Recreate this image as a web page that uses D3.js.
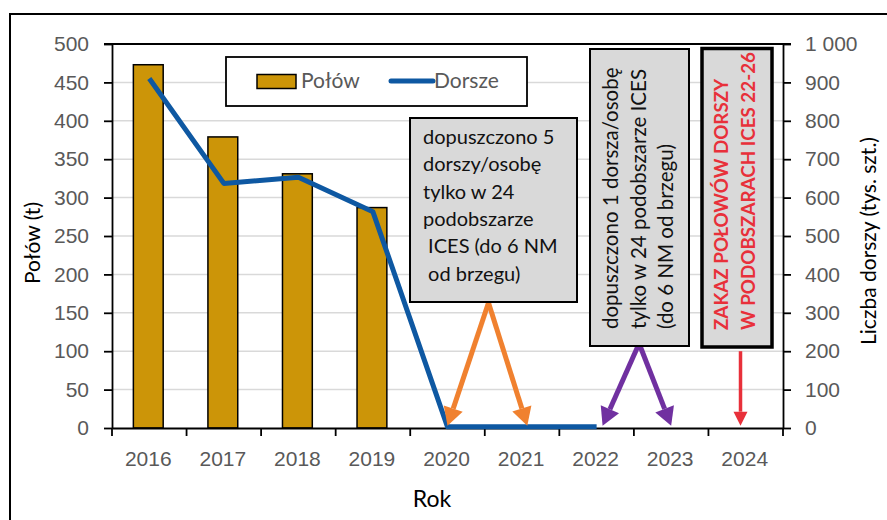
<!DOCTYPE html>
<html>
<head>
<meta charset="utf-8">
<script src="https://cdn.jsdelivr.net/npm/d3@7"></script>
<style>
  html, body { margin: 0; padding: 0; background: #fff; }
  svg { display: block; font-family: "Lato", "Noto Sans", sans-serif; }
</style>
</head>
<body>
<svg id="chart" width="887" height="520"></svg>
<script>
// Catch (t) and cod count (thousands) by year
const years = ["2016", "2017", "2018", "2019", "2020", "2021", "2022", "2023", "2024"];
const catchT = [473, 379, 331, 287, 0, 0, 0, 0, 0];
const codCount = [910, 637, 653, 563, 3, 3, 3, null, null];
const leftTicks = [0, 50, 100, 150, 200, 250, 300, 350, 400, 450, 500];
const rightTicks = [0, 100, 200, 300, 400, 500, 600, 700, 800, 900, 1000];

// Annotation text
const note1Lines = ["dopuszczono 5", "dorszy/osobę", "tylko w 24", "podobszarze", " ICES (do 6 NM", " od brzegu)"];
const note2Lines = ["dopuszczono 1 dorsza/osobę", "tylko w 24 podobszarze ICES", "(do 6 NM od brzegu)"];
const note3Lines = ["ZAKAZ POŁOWÓW DORSZY", "W PODOBSZARACH ICES 22-26"];

const svg = d3.select("#chart");
const m = { left: 112, right: 783, top: 44, bottom: 428 };

// Outer chart frame (runs past the right and bottom edges)
svg.append("rect").attr("x", 10).attr("y", 14).attr("width", 900).attr("height", 540)
  .attr("fill", "#fff").attr("stroke", "#000").attr("stroke-width", 2);

const x = d3.scaleBand().domain(years).range([m.left, m.right]).padding(0);
// continuous position in "year index" units for annotations (0 = left edge)
const xi = d3.scaleLinear().domain([0, years.length]).range([m.left, m.right]);
const yL = d3.scaleLinear().domain([0, 500]).range([m.bottom, m.top]);
const yR = d3.scaleLinear().domain([0, 1000]).range([m.bottom, m.top]);

const grey = "#595959";

// Gridlines
svg.append("g").selectAll("line").data(leftTicks.filter(d => d > 0 && d < 500)).join("line")
  .attr("x1", m.left).attr("x2", m.right)
  .attr("y1", d => yL(d)).attr("y2", d => yL(d))
  .attr("stroke", "#d9d9d9").attr("stroke-width", 1.5);

// Bars
const bw = x.bandwidth() * 0.4;
svg.append("g").selectAll("rect").data(years.map((y, i) => ({ y, v: catchT[i] })).filter(d => d.v > 0)).join("rect")
  .attr("x", d => x(d.y) + x.bandwidth() / 2 - bw / 2 - 1)
  .attr("width", bw)
  .attr("y", d => yL(d.v))
  .attr("height", d => yL(0) - yL(d.v))
  .attr("fill", "#cc9508").attr("stroke", "#000").attr("stroke-width", 1.5);

// Axes
function styleAxis(g) {
  g.select(".domain").attr("stroke", "#000").attr("stroke-width", 1.8);
  g.selectAll(".tick line").attr("stroke", "#000").attr("stroke-width", 1.8);
  g.selectAll(".tick text").attr("fill", grey).attr("font-size", 21);
}
const gL = svg.append("g").attr("transform", `translate(${m.left},0)`)
  .call(d3.axisLeft(yL).tickValues(leftTicks).tickSize(8).tickPadding(15).tickSizeOuter(0));
styleAxis(gL);

const gR = svg.append("g").attr("transform", `translate(${m.right},0)`)
  .call(d3.axisRight(yR).tickValues(rightTicks).tickFormat(d => d === 1000 ? "1 000" : d).tickSize(8).tickPadding(14).tickSizeOuter(0));
styleAxis(gR);

// Bottom axis: ticks sit on category boundaries
const gB = svg.append("g").attr("transform", `translate(0,${m.bottom})`)
  .call(d3.axisBottom(x).tickSize(0).tickPadding(23));
styleAxis(gB);
gB.selectAll(".tick text").attr("dy", "0.71em").attr("transform", "translate(-1,0)");
gB.selectAll("line.boundary").data(d3.range(0, years.length + 1)).join("line")
  .attr("class", "boundary")
  .attr("x1", d => xi(d)).attr("x2", d => xi(d)).attr("y1", 0).attr("y2", 8)
  .attr("stroke", "#000").attr("stroke-width", 1.8);

// Top frame line of plot area
svg.append("line").attr("x1", m.left - 8).attr("x2", m.right + 8)
  .attr("y1", m.top).attr("y2", m.top).attr("stroke", "#000").attr("stroke-width", 1.8);

// Cod line
const line = d3.line()
  .defined(d => d.v !== null)
  .x(d => x(d.y) + x.bandwidth() / 2)
  .y(d => yR(d.v));
svg.append("path").datum(years.map((y, i) => ({ y, v: codCount[i] })))
  .attr("d", line).attr("fill", "none").attr("stroke", "#0e58a2")
  .attr("stroke-width", 5).attr("stroke-linejoin", "round").attr("stroke-linecap", "butt");

// Axis titles
svg.append("text").attr("transform", `translate(40,243) rotate(-90)`)
  .attr("text-anchor", "middle").attr("font-size", 21).attr("fill", "#000").text("Połów (t)");
svg.append("text").attr("transform", `translate(876,241) rotate(-90)`)
  .attr("text-anchor", "middle").attr("font-size", 21).attr("fill", "#000").text("Liczba dorszy (tys. szt.)");
svg.append("text").attr("x", 432).attr("y", 507)
  .attr("text-anchor", "middle").attr("font-size", 23).attr("fill", "#000").text("Rok");

// Legend
const lg = svg.append("g");
lg.append("rect").attr("x", 226).attr("y", 57).attr("width", 301).attr("height", 49)
  .attr("fill", "#fff").attr("stroke", "#000").attr("stroke-width", 1.8);
lg.append("rect").attr("x", 257).attr("y", 74.5).attr("width", 39).attr("height", 14)
  .attr("fill", "#cc9508").attr("stroke", "#000").attr("stroke-width", 1.5);
lg.append("text").attr("x", 301).attr("y", 88).attr("font-size", 21).attr("fill", grey).text("Połów");
lg.append("line").attr("x1", 391).attr("x2", 433).attr("y1", 81).attr("y2", 81)
  .attr("stroke", "#0e58a2").attr("stroke-width", 5).attr("stroke-linecap", "round");
lg.append("text").attr("x", 434).attr("y", 88).attr("font-size", 21).attr("fill", grey).text("Dorsze");

// Arrows (positions in year-index / left-axis units)
const arrows = [
  { from: [5.05, 163], to: [4.5, 3], color: "#f0812f" },
  { from: [5.05, 163], to: [5.57, 3], color: "#f0812f" },
  { from: [7.07, 110], to: [6.58, 3], color: "#7030a0" },
  { from: [7.07, 110], to: [7.5, 3], color: "#7030a0" },
  { from: [8.43, 100], to: [8.43, 3], color: "#e8303a", thin: true }
];
const ag = svg.append("g");
arrows.forEach(a => {
  const x1 = xi(a.from[0]), y1 = yL(a.from[1]), x2 = xi(a.to[0]), y2 = yL(a.to[1]);
  const ang = Math.atan2(y2 - y1, x2 - x1);
  const hl = a.thin ? 14 : 18, hw = a.thin ? 7 : 10;
  const bx = x2 - hl * Math.cos(ang), by = y2 - hl * Math.sin(ang);
  ag.append("line").attr("x1", x1).attr("y1", y1).attr("x2", bx).attr("y2", by)
    .attr("stroke", a.color).attr("stroke-width", a.thin ? 3.5 : 5);
  const px = -Math.sin(ang), py = Math.cos(ang);
  ag.append("polygon")
    .attr("points", [[x2, y2], [bx + px * hw, by + py * hw], [bx - px * hw, by - py * hw]].map(p => p.join(",")).join(" "))
    .attr("fill", a.color);
});

// Note boxes
function box(x0, y0, x1, y1, sw) {
  svg.append("rect").attr("x", x0).attr("y", y0).attr("width", x1 - x0).attr("height", y1 - y0)
    .attr("fill", "#d9d9d9").attr("stroke", "#000").attr("stroke-width", sw);
}
box(410, 118, 577, 302, 2);
svg.append("g").selectAll("text").data(note1Lines).join("text")
  .attr("x", 423).attr("y", (d, i) => 144 + i * 27.3)
  .attr("font-size", 20).attr("fill", "#111").attr("xml:space", "preserve").text(d => d);

box(590, 49, 689, 346, 2);
svg.append("g").selectAll("text").data(note2Lines).join("text")
  .attr("transform", (d, i) => `translate(${618 + i * 27.5},329) rotate(-90)`)
  .attr("font-size", 20.5).attr("fill", "#111").text(d => d);

box(702, 48.5, 772, 347, 3.5);
svg.append("g").selectAll("text").data(note3Lines).join("text")
  .attr("transform", (d, i) => `translate(${728 + i * 27},330) rotate(-90)`)
  .attr("font-size", 18.8).attr("font-weight", "bold").attr("fill", "#e8303a").text(d => d);
</script>
</body>
</html>
